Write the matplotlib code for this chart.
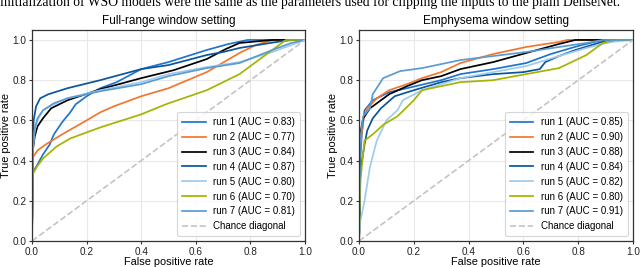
import matplotlib
matplotlib.use("Agg")
import matplotlib.pyplot as plt

plt.rcParams["font.family"] = ["Liberation Sans", "DejaVu Sans"]

caption = ("initialization of WSO models were the same as the parameters "
           "used for clipping the inputs to the plain DenseNet.")

titles = ["Full-range window setting", "Emphysema window setting"]
run_labels = ["run 1", "run 2", "run 3", "run 4", "run 5", "run 6", "run 7"]
run_colors = ["#1f74cc", "#f2762e", "#000000", "#0b559c", "#9fcbed", "#a4b400", "#5a9bd2"]

full_auc = [0.83, 0.77, 0.84, 0.87, 0.80, 0.70, 0.81]
emph_auc = [0.85, 0.90, 0.88, 0.84, 0.82, 0.80, 0.91]

# ROC points
full_fpr = [
    [0, 0.003, 0.02, 0.04, 0.065, 0.08, 0.11, 0.14, 0.16, 0.2, 0.25, 0.31, 0.4, 0.5, 0.64, 0.72, 0.79, 1.0],
    [0, 0.002, 0.005, 0.02, 0.05, 0.11, 0.2, 0.25, 0.3, 0.4, 0.5, 0.64, 0.76, 0.82, 0.87, 0.9, 1.0],
    [0, 0.003, 0.01, 0.02, 0.04, 0.07, 0.13, 0.25, 0.4, 0.52, 0.64, 0.71, 0.76, 0.88, 1.0],
    [0, 0.003, 0.006, 0.015, 0.03, 0.06, 0.13, 0.25, 0.4, 0.5, 0.64, 0.7, 0.76, 0.85, 0.92, 0.96, 1.0],
    [0, 0.003, 0.01, 0.02, 0.04, 0.08, 0.13, 0.25, 0.4, 0.5, 0.64, 0.76, 0.88, 0.95, 1.0],
    [0, 0.002, 0.018, 0.04, 0.09, 0.14, 0.2, 0.25, 0.4, 0.49, 0.64, 0.76, 0.88, 0.93, 1.0],
    [0, 0.003, 0.01, 0.02, 0.04, 0.08, 0.13, 0.25, 0.4, 0.5, 0.64, 0.76, 0.88, 0.95, 1.0],
]
full_tpr = [
    [0, 0.34, 0.38, 0.43, 0.48, 0.53, 0.59, 0.64, 0.68, 0.72, 0.76, 0.79, 0.855, 0.89, 0.95, 0.98, 1.0, 1.0],
    [0, 0.38, 0.42, 0.45, 0.48, 0.53, 0.6, 0.64, 0.67, 0.72, 0.76, 0.84, 0.935, 0.975, 0.995, 1.0, 1.0],
    [0, 0.45, 0.52, 0.57, 0.61, 0.66, 0.7, 0.755, 0.81, 0.85, 0.905, 0.955, 0.985, 1.0, 1.0],
    [0, 0.45, 0.6, 0.67, 0.71, 0.73, 0.76, 0.8, 0.855, 0.875, 0.925, 0.94, 0.96, 0.98, 0.995, 1.0, 1.0],
    [0, 0.45, 0.55, 0.6, 0.65, 0.68, 0.71, 0.75, 0.79, 0.83, 0.865, 0.89, 0.94, 0.975, 1.0],
    [0, 0.33, 0.37, 0.41, 0.47, 0.51, 0.54, 0.565, 0.63, 0.68, 0.75, 0.83, 0.95, 1.0, 1.0],
    [0, 0.47, 0.56, 0.61, 0.65, 0.685, 0.71, 0.745, 0.78, 0.82, 0.86, 0.885, 0.95, 0.985, 1.0],
]

# ROC points
emph_fpr = [
    [0, 0.004, 0.01, 0.02, 0.05, 0.11, 0.175, 0.3, 0.37, 0.49, 0.61, 0.7, 0.75, 0.8, 0.89, 1.0],
    [0, 0.003, 0.015, 0.03, 0.065, 0.11, 0.175, 0.23, 0.3, 0.37, 0.49, 0.61, 0.73, 0.76, 1.0],
    [0, 0.004, 0.004, 0.015, 0.04, 0.11, 0.175, 0.23, 0.3, 0.37, 0.49, 0.61, 0.73, 0.79, 1.0],
    [0, 0.005, 0.02, 0.03, 0.05, 0.08, 0.13, 0.2, 0.3, 0.37, 0.49, 0.6, 0.66, 0.68, 0.73, 0.79, 0.85, 0.91, 1.0],
    [0, 0.005, 0.02, 0.04, 0.065, 0.1, 0.14, 0.16, 0.23, 0.3, 0.37, 0.49, 0.61, 0.73, 0.83, 0.92, 1.0],
    [0, 0.005, 0.015, 0.02, 0.05, 0.09, 0.14, 0.2, 0.23, 0.3, 0.37, 0.49, 0.61, 0.73, 0.83, 0.89, 0.94, 1.0],
    [0, 0.004, 0.015, 0.04, 0.05, 0.088, 0.15, 0.23, 0.37, 0.49, 0.61, 0.73, 0.83, 0.89, 1.0],
]
emph_tpr = [
    [0, 0.4, 0.53, 0.65, 0.7, 0.74, 0.76, 0.8, 0.83, 0.855, 0.885, 0.93, 0.95, 0.97, 1.0, 1.0],
    [0, 0.45, 0.6, 0.66, 0.71, 0.75, 0.78, 0.81, 0.84, 0.885, 0.93, 0.965, 0.99, 1.0, 1.0],
    [0, 0.2, 0.53, 0.61, 0.66, 0.73, 0.77, 0.8, 0.82, 0.855, 0.89, 0.935, 0.98, 1.0, 1.0],
    [0, 0.35, 0.48, 0.55, 0.61, 0.66, 0.72, 0.75, 0.79, 0.81, 0.83, 0.84, 0.855, 0.89, 0.92, 0.95, 0.975, 1.0, 1.0],
    [0, 0.1, 0.2, 0.37, 0.5, 0.6, 0.65, 0.7, 0.75, 0.78, 0.81, 0.84, 0.87, 0.92, 0.96, 0.99, 1.0],
    [0, 0.3, 0.435, 0.5, 0.53, 0.58, 0.62, 0.7, 0.75, 0.77, 0.79, 0.8, 0.83, 0.86, 0.925, 0.985, 1.0, 1.0],
    [0, 0.5, 0.62, 0.66, 0.73, 0.81, 0.845, 0.86, 0.9, 0.92, 0.94, 0.965, 0.985, 1.0, 1.0],
]

fig = plt.figure(figsize=(6.4, 2.67), dpi=100)
fig.text(0.0, 0.9775, caption, family=["Liberation Serif"], fontsize=9.85, va="baseline", ha="left")

ax_left = fig.add_axes([0.05, 0.0974, 0.4266, 0.7906])
ax_right = fig.add_axes([0.561, 0.0974, 0.428, 0.7906])

panels = [
    (ax_left, titles[0], full_fpr, full_tpr, full_auc),
    (ax_right, titles[1], emph_fpr, emph_tpr, emph_auc),
]

for ax, title, fprs, tprs, aucs in panels:
    for i in range(len(run_labels)):
        ax.plot(fprs[i], tprs[i], color=run_colors[i], linewidth=1.25,
                label=f"{run_labels[i]} (AUC = {aucs[i]:.2f})")
    ax.plot([0, 1], [0, 1], color="#c4c4c4", linestyle="--", linewidth=1.2,
            label="Chance diagonal")
    ax.set_xlim(0, 1)
    ax.set_ylim(0, 1.05)
    ax.set_yticks([0, 0.2, 0.4, 0.6, 0.8, 1.0])
    ax.set_xticks([0, 0.2, 0.4, 0.6, 0.8, 1.0])
    ax.grid(color="#e8e8e8", linewidth=0.8)
    ax.set_axisbelow(True)
    for spine in ax.spines.values():
        spine.set_color("#333333")
        spine.set_linewidth(0.9)
    ax.tick_params(labelsize=7.2, length=2.5, width=0.8, color="#333333", pad=1.5, labelcolor="#222222")
    ax.set_title(title, fontsize=8.5, pad=4)
    ax.set_xlabel("False positive rate", fontsize=7.9, labelpad=0)
    ax.set_ylabel("True positive rate", fontsize=7.9, labelpad=1)
    leg = ax.legend(loc="lower right", fontsize=7, handlelength=2.4,
                    labelspacing=0.5, borderpad=0.5, fancybox=True)
    leg.get_frame().set_edgecolor("#cccccc")
    leg.get_frame().set_linewidth(0.8)

fig.savefig("out.png", dpi=100)
